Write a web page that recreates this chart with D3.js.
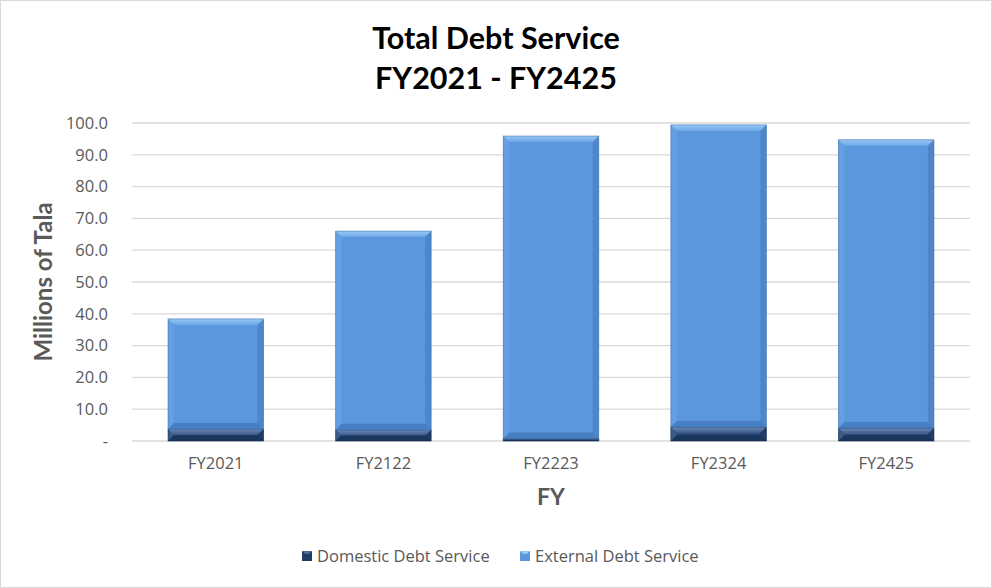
<!DOCTYPE html>
<html><head><meta charset="utf-8">
<script src="https://cdn.jsdelivr.net/npm/d3@7"></script>
<style>body{margin:0;background:#fff}svg{display:block}</style>
</head><body><svg id="c" width="992" height="588"></svg>
<script>
const categories = ["FY2021","FY2122","FY2223","FY2324","FY2425"];
const domestic = [3.8, 3.5, 0.8, 4.4, 4.1];
const external = [34.6, 62.5, 95.1, 95.0, 90.6];
const yTicks = [0,10,20,30,40,50,60,70,80,90,100];
const seriesNames = ["Domestic Debt Service","External Debt Service"];

const svg = d3.select("#c");
const W=992,H=588;
const m={l:132,r:22,t:123,b:147};
svg.append("rect").attr("x",0.5).attr("y",0.5).attr("width",W-1).attr("height",H-1).attr("fill","#fff").attr("stroke","#d9d9d9");

const x=d3.scaleBand().domain(categories).range([m.l,W-m.r]).paddingInner(0.43).paddingOuter(0.215);
const y=d3.scaleLinear().domain([0,100]).range([H-m.b,m.t]);

const defs=svg.append("defs");
function grad(id,c1,c2){const g=defs.append("linearGradient").attr("id",id).attr("x1",0).attr("y1",0).attr("x2",0).attr("y2",1);
 g.append("stop").attr("offset",0).attr("stop-color",c1);g.append("stop").attr("offset",1).attr("stop-color",c2);}
grad("extTop","#9cc8f5","#6aa6e6");
grad("domTop","#6a89b8","#3b5a8a");

svg.append("g").selectAll("line").data(yTicks).join("line")
 .attr("x1",m.l).attr("x2",W-m.r).attr("y1",d=>y(d)).attr("y2",d=>y(d))
 .attr("stroke","#d9d9d9").attr("stroke-width",1.3);

const ya=svg.append("g").attr("transform",`translate(${m.l-21},0)`).call(d3.axisLeft(y).tickValues(yTicks).tickSize(0).tickFormat(d=>d===0?"-":d3.format(".1f")(d)));
ya.select(".domain").remove();
ya.selectAll("text").attr("font-family","Open Sans, sans-serif").attr("font-size",16.5).attr("fill","#595959");

const xa=svg.append("g").attr("transform",`translate(0,${H-m.b+13})`).call(d3.axisBottom(x).tickSize(0));
xa.select(".domain").remove();
xa.selectAll("text").attr("font-family","Open Sans, sans-serif").attr("font-size",16.5).attr("fill","#595959");

function bevelBar(g,x0,w,yTop,yBot,fill,light,dark,side){
 const b=Math.min(6,(yBot-yTop)/2);
 g.append("rect").attr("x",x0).attr("y",yTop).attr("width",w).attr("height",yBot-yTop).attr("fill",fill);
 g.append("polygon").attr("points",`${x0},${yTop} ${x0+w},${yTop} ${x0+w-b},${yTop+b} ${x0+b},${yTop+b}`).attr("fill",light);
 g.append("polygon").attr("points",`${x0},${yTop} ${x0+b},${yTop+b} ${x0+b},${yBot-b} ${x0},${yBot}`).attr("fill",side).attr("opacity",0.35);
 g.append("polygon").attr("points",`${x0+w},${yTop} ${x0+w-b},${yTop+b} ${x0+w-b},${yBot-b} ${x0+w},${yBot}`).attr("fill",dark).attr("opacity",0.4);
 g.append("polygon").attr("points",`${x0},${yBot} ${x0+b},${yBot-b} ${x0+w-b},${yBot-b} ${x0+w},${yBot}`).attr("fill",dark).attr("opacity",0.6);
 g.append("rect").attr("x",x0).attr("y",yTop).attr("width",w).attr("height",yBot-yTop).attr("fill","none").attr("stroke",dark).attr("stroke-width",0.8).attr("opacity",0.7);
}
const bars=svg.append("g");
categories.forEach((c,i)=>{
 const x0=x(c),w=x.bandwidth();
 const g=bars.append("g");
 bevelBar(g,x0,w,y(domestic[i]),y(0),"#2a4a78","url(#domTop)","#13294a","#5a7aa8");
 bevelBar(g,x0,w,y(domestic[i]+external[i]),y(domestic[i]),"#5b97dc","url(#extTop)","#3a70b0","#7ab0ea");
});

const tf="Lato, Open Sans, sans-serif";
svg.append("text").attr("x",496).attr("y",49).attr("text-anchor","middle").attr("font-family",tf).attr("font-weight","bold").attr("font-size",30.5).attr("fill","#000").text("Total Debt Service");
svg.append("text").attr("x",496).attr("y",89).attr("text-anchor","middle").attr("font-family",tf).attr("font-weight","bold").attr("font-size",30.5).attr("fill","#000").text("FY2021 - FY2425");
svg.append("text").attr("transform",`translate(52,${(y(0)+y(100))/2}) rotate(-90)`).attr("text-anchor","middle").attr("font-family",tf).attr("font-weight","bold").attr("font-size",24).attr("fill","#595959").text("Millions of Tala");
svg.append("text").attr("x",(m.l+W-m.r)/2).attr("y",505).attr("text-anchor","middle").attr("font-family",tf).attr("font-weight","bold").attr("font-size",23).attr("fill","#595959").text("FY");

const leg=svg.append("g");
const legX=[302,520], legC=[["#1f3c66","#4a6a9a"],["#5b97dc","#9cc8f5"]];
seriesNames.forEach((n,i)=>{
 const g=leg.append("g").attr("transform",`translate(${legX[i]},556)`);
 g.append("rect").attr("x",0).attr("y",-5).attr("width",10).attr("height",10).attr("fill",legC[i][0]);
 g.append("polygon").attr("points","0,-5 10,-5 7,-2 3,-2").attr("fill",legC[i][1]);
 g.append("text").attr("x",15).attr("y",6).attr("font-family","Open Sans, sans-serif").attr("font-size",16.5).attr("fill","#595959").text(n);
});
</script></body></html>
